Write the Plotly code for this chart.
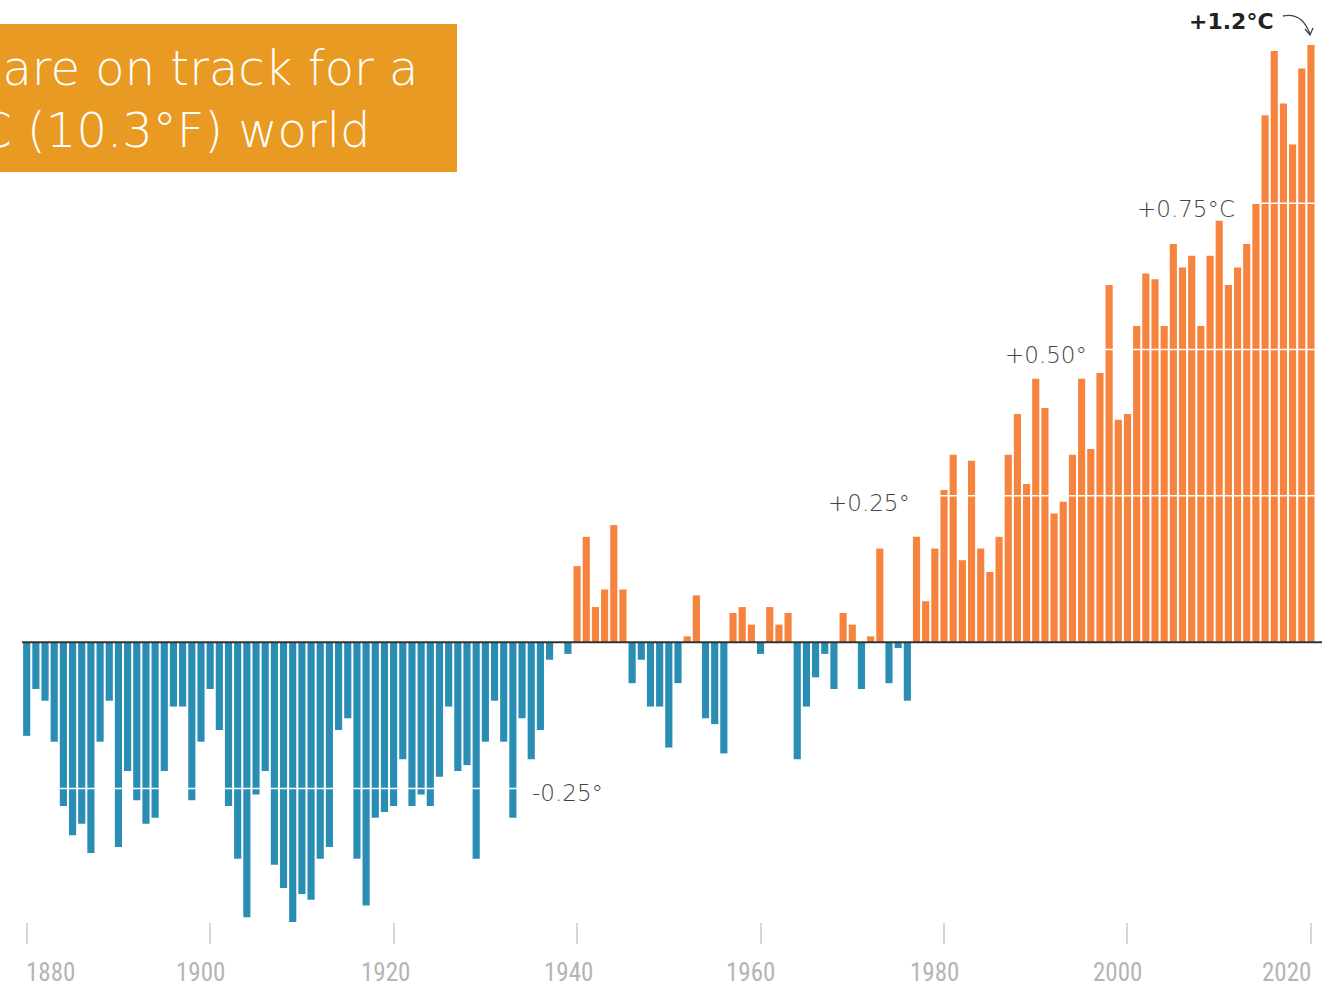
import plotly.graph_objects as go

# ---- data (global temperature anomaly, °C) ----
years = list(range(1880, 2021))
anomaly = [
    -0.16, -0.08, -0.10, -0.17, -0.28, -0.33, -0.31, -0.36, -0.17, -0.10,  # 1880s
    -0.35, -0.22, -0.27, -0.31, -0.30, -0.22, -0.11, -0.11, -0.27, -0.17,  # 1890s
    -0.08, -0.15, -0.28, -0.37, -0.47, -0.26, -0.22, -0.38, -0.42, -0.48,  # 1900s
    -0.43, -0.44, -0.37, -0.35, -0.15, -0.13, -0.37, -0.45, -0.30, -0.29,  # 1910s
    -0.28, -0.20, -0.28, -0.26, -0.28, -0.23, -0.11, -0.22, -0.21, -0.37,  # 1920s
    -0.17, -0.10, -0.17, -0.30, -0.13, -0.20, -0.15, -0.03, 0.00, -0.02,   # 1930s
    0.13, 0.18, 0.06, 0.09, 0.20, 0.09, -0.07, -0.03, -0.11, -0.11,        # 1940s
    -0.18, -0.07, 0.01, 0.08, -0.13, -0.14, -0.19, 0.05, 0.06, 0.03,       # 1950s
    -0.02, 0.06, 0.03, 0.05, -0.20, -0.11, -0.06, -0.02, -0.08, 0.05,      # 1960s
    0.03, -0.08, 0.01, 0.16, -0.07, -0.01, -0.10, 0.18, 0.07, 0.16,        # 1970s
    0.26, 0.32, 0.14, 0.31, 0.16, 0.12, 0.18, 0.32, 0.39, 0.27,            # 1980s
    0.45, 0.40, 0.22, 0.24, 0.32, 0.45, 0.33, 0.46, 0.61, 0.38,            # 1990s
    0.39, 0.54, 0.63, 0.62, 0.54, 0.68, 0.64, 0.66, 0.54, 0.66,            # 2000s
    0.72, 0.61, 0.64, 0.68, 0.75, 0.90, 1.01, 0.92, 0.85, 0.98,            # 2010s
    1.02,                                                                  # 2020
]
tick_years = [1880, 1900, 1920, 1940, 1960, 1980, 2000, 2020]
tick_labels = [str(y) for y in tick_years]
grid_values = [-0.25, 0.25, 0.50, 0.75]
grid_labels = ["-0.25°", "+0.25°", "+0.50°", "+0.75°C"]
peak_label = "+1.2°C"
headline = ["We are on track for a", "5.7°C (10.3°F) world"]

# ---- styling ----
W, H = 1337, 987
PLOT_BOTTOM = 922
BLUE = "#2a8db3"
ORANGE = "#f7843e"
BOX = "#e99a22"


def px_x(px):
    return px / W


def px_y(py):
    return (PLOT_BOTTOM - py) / PLOT_BOTTOM


colors = [BLUE if v < 0 else ORANGE for v in anomaly]

fig = go.Figure(go.Bar(x=years, y=anomaly, marker=dict(color=colors, line=dict(width=0)),
                       hoverinfo="x+y"))

shapes = []
# white reference lines crossing the bars
for g in grid_values:
    shapes.append(dict(type="line", xref="paper", yref="y", x0=0, x1=1, y0=g, y1=g,
                       line=dict(color="white", width=1.5), layer="above"))
# zero baseline
shapes.append(dict(type="line", xref="paper", yref="y", x0=px_x(22), x1=px_x(1322), y0=0, y1=0,
                   line=dict(color="#333333", width=2), layer="above"))
# orange headline box
shapes.append(dict(type="rect", xref="paper", yref="paper", x0=0, x1=px_x(457),
                   y0=px_y(172), y1=px_y(24), fillcolor=BOX, line=dict(width=0), layer="above"))
# curved arrow to the last bar
shapes.append(dict(type="path", xref="paper", yref="paper",
                   path=f"M {px_x(1283)},{px_y(16)} Q {px_x(1302)},{px_y(12)} {px_x(1310)},{px_y(34)}",
                   line=dict(color="#444444", width=1.3), layer="above"))
shapes.append(dict(type="path", xref="paper", yref="paper",
                   path=f"M {px_x(1305)},{px_y(29)} L {px_x(1310)},{px_y(35)} L {px_x(1313)},{px_y(28)}",
                   line=dict(color="#444444", width=1.3), layer="above"))

annotations = []
# year labels under the ticks
label_shift = [24, -10, -8, -9, -10, -10, -10, -24]
for y, t, s in zip(tick_years, tick_labels, label_shift):
    annotations.append(dict(x=y, xref="x", y=0, yref="paper", yshift=-50, xshift=s,
                            text=t, showarrow=False, xanchor="center", yanchor="middle",
                            font=dict(family="Liberation Sans Narrow, Roboto Condensed, Liberation Sans",
                                      size=25, color="#b4b4b4")))
# level labels
label_pos = [(530, 793), (826, 503), (1003, 355), (1135, 209)]
for (lx, ly), t in zip(label_pos, grid_labels):
    annotations.append(dict(x=px_x(lx), xref="paper", y=px_y(ly), yref="paper", text=t,
                            showarrow=False, xanchor="left", yanchor="middle",
                            font=dict(family="DejaVu Sans, Lato, sans-serif", size=23,
                                      color="#444444", weight=200)))
annotations.append(dict(x=px_x(1187), xref="paper", y=px_y(21), yref="paper", text=peak_label,
                        showarrow=False, xanchor="left", yanchor="middle",
                        font=dict(family="DejaVu Sans, Lato, sans-serif", size=22, color="#222222",
                                  weight="bold")))
# headline text (cut off at the left edge, as in the original)
for (rx, cy), t in zip([(420, 68), (372, 130)], headline):
    annotations.append(dict(x=px_x(rx), xref="paper", y=px_y(cy), yref="paper", text=t,
                            showarrow=False, xanchor="right", yanchor="middle",
                            font=dict(family="DejaVu Sans, Lato, sans-serif", size=48, color="white",
                                      weight=200)))

fig.update_layout(
    width=W, height=H,
    margin=dict(l=0, r=0, t=0, b=H - PLOT_BOTTOM),
    paper_bgcolor="white", plot_bgcolor="white",
    bargap=0.22, showlegend=False,
    xaxis=dict(range=[1877.09, 2022.84], showgrid=False, zeroline=False, showline=False,
               tickvals=tick_years, showticklabels=False, ticks="outside", ticklen=21,
               tickwidth=1.5, tickcolor="#d6d6d6"),
    yaxis=dict(range=[-0.478, 1.097], visible=False),
    shapes=shapes, annotations=annotations,
)

fig.write_html(
    "out.html",
    config={"displayModeBar": False},
    post_script="document.body.style.margin='0';document.body.style.overflow='hidden';",
)
